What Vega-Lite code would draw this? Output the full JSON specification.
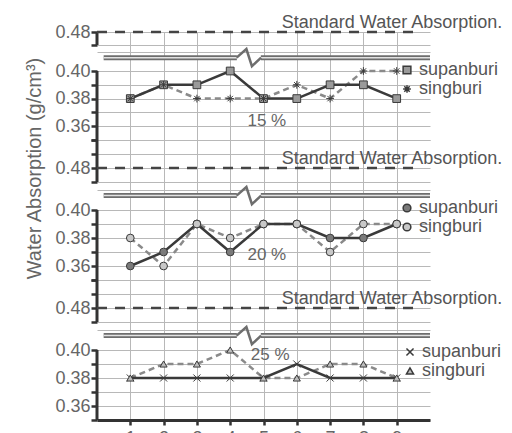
{
  "$schema": "https://vega.github.io/schema/vega-lite/v6.json",
  "background": "#ffffff",
  "padding": {"left": 24, "top": 14, "right": 0, "bottom": 0},
  "bounds": "flush",
  "spacing": 0,
  "config": {
    "font": "Liberation Sans",
    "view": {"stroke": null},
    "axis": {"labelFont": "Liberation Sans", "titleFont": "Liberation Sans"},
    "legend": {"labelFont": "Liberation Sans"}
  },
  "datasets": {
    "wa": [
      {"panel": "15%", "day": 1, "series": "supanburi", "value": 0.38},
      {"panel": "15%", "day": 2, "series": "supanburi", "value": 0.39},
      {"panel": "15%", "day": 3, "series": "supanburi", "value": 0.39},
      {"panel": "15%", "day": 4, "series": "supanburi", "value": 0.40},
      {"panel": "15%", "day": 5, "series": "supanburi", "value": 0.38},
      {"panel": "15%", "day": 6, "series": "supanburi", "value": 0.38},
      {"panel": "15%", "day": 7, "series": "supanburi", "value": 0.39},
      {"panel": "15%", "day": 8, "series": "supanburi", "value": 0.39},
      {"panel": "15%", "day": 9, "series": "supanburi", "value": 0.38},
      {"panel": "15%", "day": 1, "series": "singburi", "value": 0.38},
      {"panel": "15%", "day": 2, "series": "singburi", "value": 0.39},
      {"panel": "15%", "day": 3, "series": "singburi", "value": 0.38},
      {"panel": "15%", "day": 4, "series": "singburi", "value": 0.38},
      {"panel": "15%", "day": 5, "series": "singburi", "value": 0.38},
      {"panel": "15%", "day": 6, "series": "singburi", "value": 0.39},
      {"panel": "15%", "day": 7, "series": "singburi", "value": 0.38},
      {"panel": "15%", "day": 8, "series": "singburi", "value": 0.40},
      {"panel": "15%", "day": 9, "series": "singburi", "value": 0.40},
      {"panel": "20%", "day": 1, "series": "supanburi", "value": 0.36},
      {"panel": "20%", "day": 2, "series": "supanburi", "value": 0.37},
      {"panel": "20%", "day": 3, "series": "supanburi", "value": 0.39},
      {"panel": "20%", "day": 4, "series": "supanburi", "value": 0.37},
      {"panel": "20%", "day": 5, "series": "supanburi", "value": 0.39},
      {"panel": "20%", "day": 6, "series": "supanburi", "value": 0.39},
      {"panel": "20%", "day": 7, "series": "supanburi", "value": 0.38},
      {"panel": "20%", "day": 8, "series": "supanburi", "value": 0.38},
      {"panel": "20%", "day": 9, "series": "supanburi", "value": 0.39},
      {"panel": "20%", "day": 1, "series": "singburi", "value": 0.38},
      {"panel": "20%", "day": 2, "series": "singburi", "value": 0.36},
      {"panel": "20%", "day": 3, "series": "singburi", "value": 0.39},
      {"panel": "20%", "day": 4, "series": "singburi", "value": 0.38},
      {"panel": "20%", "day": 5, "series": "singburi", "value": 0.39},
      {"panel": "20%", "day": 6, "series": "singburi", "value": 0.39},
      {"panel": "20%", "day": 7, "series": "singburi", "value": 0.37},
      {"panel": "20%", "day": 8, "series": "singburi", "value": 0.39},
      {"panel": "20%", "day": 9, "series": "singburi", "value": 0.39},
      {"panel": "25%", "day": 1, "series": "supanburi", "value": 0.38},
      {"panel": "25%", "day": 2, "series": "supanburi", "value": 0.38},
      {"panel": "25%", "day": 3, "series": "supanburi", "value": 0.38},
      {"panel": "25%", "day": 4, "series": "supanburi", "value": 0.38},
      {"panel": "25%", "day": 5, "series": "supanburi", "value": 0.38},
      {"panel": "25%", "day": 6, "series": "supanburi", "value": 0.39},
      {"panel": "25%", "day": 7, "series": "supanburi", "value": 0.38},
      {"panel": "25%", "day": 8, "series": "supanburi", "value": 0.38},
      {"panel": "25%", "day": 9, "series": "supanburi", "value": 0.38},
      {"panel": "25%", "day": 1, "series": "singburi", "value": 0.38},
      {"panel": "25%", "day": 2, "series": "singburi", "value": 0.39},
      {"panel": "25%", "day": 3, "series": "singburi", "value": 0.39},
      {"panel": "25%", "day": 4, "series": "singburi", "value": 0.40},
      {"panel": "25%", "day": 5, "series": "singburi", "value": 0.38},
      {"panel": "25%", "day": 6, "series": "singburi", "value": 0.38},
      {"panel": "25%", "day": 7, "series": "singburi", "value": 0.39},
      {"panel": "25%", "day": 8, "series": "singburi", "value": 0.39},
      {"panel": "25%", "day": 9, "series": "singburi", "value": 0.38}
    ]
  },
  "vconcat": [
    {
      "width": 333, "height": 108,
      "layer": [
        {"data": {"values": [{}]}, "mark": {"type": "rule", "color": "#333", "strokeWidth": 3}, "encoding": {"x": {"datum": 0, "type": "quantitative"}, "y": {"datum": 0.35, "type": "quantitative"}, "y2": {"datum": 0.40}}},
        {"data": {"values": [{}]}, "mark": {"type": "rule", "color": "#333", "strokeWidth": 3}, "encoding": {"x": {"datum": 0, "type": "quantitative"}, "y": {"datum": 0.47, "type": "quantitative"}, "y2": {"datum": 0.48}}},
        {"data": {"values": [{}]}, "mark": {"type": "rule", "color": "#6e6e6e", "strokeWidth": 5}, "encoding": {"x": {"datum": 0.2, "type": "quantitative"}, "x2": {"datum": 4.2}, "y": {"datum": 0.436, "type": "quantitative"}}},
        {"data": {"values": [{}]}, "mark": {"type": "rule", "color": "#6e6e6e", "strokeWidth": 5}, "encoding": {"x": {"datum": 4.92, "type": "quantitative"}, "x2": {"datum": 10}, "y": {"datum": 0.436, "type": "quantitative"}}},
        {"data": {"values": [{}]}, "mark": {"type": "rule", "color": "#e2e2e2", "strokeWidth": 1.5}, "encoding": {"x": {"datum": 0.2, "type": "quantitative"}, "x2": {"datum": 4.2}, "y": {"datum": 0.436, "type": "quantitative"}}},
        {"data": {"values": [{}]}, "mark": {"type": "rule", "color": "#e2e2e2", "strokeWidth": 1.5}, "encoding": {"x": {"datum": 4.92, "type": "quantitative"}, "x2": {"datum": 10}, "y": {"datum": 0.436, "type": "quantitative"}}},
        {"data": {"values": [{}]}, "mark": {"type": "point", "shape": "M-1,0L-0.2,-0.7L0.25,0.7L1,0", "size": 600, "filled": false, "stroke": "#6e6e6e", "strokeWidth": 2.5, "opacity": 1}, "encoding": {"x": {"datum": 4.56, "type": "quantitative"}, "y": {"datum": 0.436, "type": "quantitative"}}},
        {"data": {"values": [{}]}, "mark": {"type": "rule", "color": "#444", "strokeWidth": 2.5, "strokeDash": [10, 8]}, "encoding": {"x": {"datum": 0, "type": "quantitative"}, "x2": {"datum": 9.6}, "y": {"datum": 0.48, "type": "quantitative"}}},
        {"data": {"values": [{}]}, "mark": {"type": "text", "text": "Standard Water Absorption.", "align": "left", "baseline": "alphabetic", "dy": -4, "fontSize": 18, "color": "#555"}, "encoding": {"x": {"datum": 5.55, "type": "quantitative"}, "y": {"datum": 0.48, "type": "quantitative"}}},
        {"data": {"values": [{}]}, "mark": {"type": "text", "text": "15 %", "align": "center", "baseline": "middle", "fontSize": 17, "color": "#666"}, "encoding": {"x": {"datum": 5.1, "type": "quantitative"}, "y": {"datum": 0.3635, "type": "quantitative"}}},
        {
          "data": {"name": "wa"},
          "transform": [{"filter": "datum.panel == '15%' && datum.series == 'singburi'"}],
          "mark": {"type": "line", "strokeWidth": 2.5, "color": "#8a8a8a", "strokeDash": [6, 4]},
          "encoding": {
            "x": {"field": "day", "type": "quantitative", "scale": {"domain": [0, 10], "nice": false, "zero": false},
                  "axis": {"values": [1, 2, 3, 4, 5, 6, 7, 8, 9], "grid": true, "gridColor": "#b8b8b8", "domain": false, "ticks": false, "labels": false, "title": null}},
            "y": {"field": "value", "type": "quantitative", "scale": {"domain": [0.35, 0.40, 0.47, 0.48], "range": [108, 39, 13, 0], "nice": false, "zero": false},
                  "axis": {"values": [0.35, 0.36, 0.37, 0.38, 0.39, 0.40, 0.45, 0.47, 0.48], "tickCount": 30, "domain": false, "grid": true, "gridColor": "#b8b8b8",
                           "tickSize": 6, "tickWidth": 2.5, "tickColor": "#333",
                           "tickOpacity": {"condition": {"test": "datum.value > 0.44 && datum.value < 0.46", "value": 0}, "value": 1},
                           "labelExpr": "indexof(['0.36','0.38','0.40','0.48'], format(datum.value, '.2f')) >= 0 ? format(datum.value, '.2f') : ''",
                           "labelFontSize": 18, "labelColor": "#666", "labelPadding": 1, "labelOverlap": false, "labelFlush": false, "labelBound": false, "title": null}}
          }
        },
        {
          "data": {"name": "wa"},
          "transform": [{"filter": "datum.panel == '15%' && datum.series == 'supanburi'"}],
          "mark": {"type": "line", "strokeWidth": 2.5, "color": "#3a3a3a"},
          "encoding": {"x": {"field": "day", "type": "quantitative"}, "y": {"field": "value", "type": "quantitative"}}
        },
        {
          "data": {"name": "wa"},
          "transform": [{"filter": "datum.panel == '15%'"}],
          "mark": {"type": "point", "filled": true, "size": 60, "stroke": "#3a3a3a", "strokeWidth": 1, "opacity": 1},
          "encoding": {
            "x": {"field": "day", "type": "quantitative"},
            "y": {"field": "value", "type": "quantitative"},
            "shape": {"field": "series", "type": "nominal", "scale": {"domain": ["supanburi", "singburi"], "range": ["square", "M-1,0L1,0M0,-1L0,1M-0.7,-0.7L0.7,0.7M-0.7,0.7L0.7,-0.7"]},
                      "legend": {"title": null, "orient": "none", "legendX": 301, "legendY": 29, "labelFontSize": 18, "labelColor": "#555", "symbolSize": 60, "rowPadding": 1, "labelOffset": 3, "padding": 0,
                                 "encode": {"symbols": {"update": {"stroke": {"value": "#3a3a3a"}, "strokeWidth": {"value": 1}}}}}},
            "fill": {"field": "series", "type": "nominal", "scale": {"domain": ["supanburi", "singburi"], "range": ["#9a9a9a", "#b5b5b5"]},
                     "legend": {"title": null, "orient": "none", "legendX": 301, "legendY": 29, "labelFontSize": 18, "labelColor": "#555", "symbolSize": 60, "rowPadding": 1, "labelOffset": 3, "padding": 0,
                                "encode": {"symbols": {"update": {"stroke": {"value": "#3a3a3a"}, "strokeWidth": {"value": 1}}}}}}
          }
        }
      ]
    },
    {
      "width": 333, "height": 140,
      "layer": [
        {"data": {"values": [{}]}, "mark": {"type": "rule", "color": "#333", "strokeWidth": 3}, "encoding": {"x": {"datum": 0, "type": "quantitative"}, "y": {"datum": 0.35, "type": "quantitative"}, "y2": {"datum": 0.40}}},
        {"data": {"values": [{}]}, "mark": {"type": "rule", "color": "#333", "strokeWidth": 3}, "encoding": {"x": {"datum": 0, "type": "quantitative"}, "y": {"datum": 0.47, "type": "quantitative"}, "y2": {"datum": 0.50}}},
        {"data": {"values": [{}]}, "mark": {"type": "rule", "color": "#6e6e6e", "strokeWidth": 5}, "encoding": {"x": {"datum": 0.2, "type": "quantitative"}, "x2": {"datum": 4.2}, "y": {"datum": 0.436, "type": "quantitative"}}},
        {"data": {"values": [{}]}, "mark": {"type": "rule", "color": "#6e6e6e", "strokeWidth": 5}, "encoding": {"x": {"datum": 4.92, "type": "quantitative"}, "x2": {"datum": 10}, "y": {"datum": 0.436, "type": "quantitative"}}},
        {"data": {"values": [{}]}, "mark": {"type": "rule", "color": "#e2e2e2", "strokeWidth": 1.5}, "encoding": {"x": {"datum": 0.2, "type": "quantitative"}, "x2": {"datum": 4.2}, "y": {"datum": 0.436, "type": "quantitative"}}},
        {"data": {"values": [{}]}, "mark": {"type": "rule", "color": "#e2e2e2", "strokeWidth": 1.5}, "encoding": {"x": {"datum": 4.92, "type": "quantitative"}, "x2": {"datum": 10}, "y": {"datum": 0.436, "type": "quantitative"}}},
        {"data": {"values": [{}]}, "mark": {"type": "point", "shape": "M-1,0L-0.2,-0.7L0.25,0.7L1,0", "size": 600, "filled": false, "stroke": "#6e6e6e", "strokeWidth": 2.5, "opacity": 1}, "encoding": {"x": {"datum": 4.56, "type": "quantitative"}, "y": {"datum": 0.436, "type": "quantitative"}}},
        {"data": {"values": [{}]}, "mark": {"type": "rule", "color": "#444", "strokeWidth": 2.5, "strokeDash": [10, 8]}, "encoding": {"x": {"datum": 0, "type": "quantitative"}, "x2": {"datum": 9.6}, "y": {"datum": 0.48, "type": "quantitative"}}},
        {"data": {"values": [{}]}, "mark": {"type": "text", "text": "Standard Water Absorption.", "align": "left", "baseline": "alphabetic", "dy": -4, "fontSize": 18, "color": "#555"}, "encoding": {"x": {"datum": 5.55, "type": "quantitative"}, "y": {"datum": 0.48, "type": "quantitative"}}},
        {"data": {"values": [{}]}, "mark": {"type": "text", "text": "20 %", "align": "center", "baseline": "middle", "fontSize": 17, "color": "#666"}, "encoding": {"x": {"datum": 5.1, "type": "quantitative"}, "y": {"datum": 0.368, "type": "quantitative"}}},
        {
          "data": {"name": "wa"},
          "transform": [{"filter": "datum.panel == '20%' && datum.series == 'singburi'"}],
          "mark": {"type": "line", "strokeWidth": 2.5, "color": "#8a8a8a", "strokeDash": [6, 4]},
          "encoding": {
            "x": {"field": "day", "type": "quantitative", "scale": {"domain": [0, 10], "nice": false, "zero": false},
                  "axis": {"values": [1, 2, 3, 4, 5, 6, 7, 8, 9], "grid": true, "gridColor": "#b8b8b8", "domain": false, "ticks": false, "labels": false, "title": null}},
            "y": {"field": "value", "type": "quantitative", "scale": {"domain": [0.35, 0.40, 0.47, 0.50], "range": [140, 70, 42, 0], "nice": false, "zero": false},
                  "axis": {"values": [0.35, 0.36, 0.37, 0.38, 0.39, 0.40, 0.45, 0.47, 0.48, 0.49, 0.50], "tickCount": 30, "domain": false, "grid": true, "gridColor": "#b8b8b8",
                           "tickSize": 6, "tickWidth": 2.5, "tickColor": "#333",
                           "tickOpacity": {"condition": {"test": "datum.value > 0.44 && datum.value < 0.46", "value": 0}, "value": 1},
                           "labelExpr": "indexof(['0.36','0.38','0.40','0.48'], format(datum.value, '.2f')) >= 0 ? format(datum.value, '.2f') : ''",
                           "labelFontSize": 18, "labelColor": "#666", "labelPadding": 1, "labelOverlap": false, "labelFlush": false, "labelBound": false,
                           "title": "Water Absorption (g/cm³)", "titleFontSize": 20, "titleFontWeight": "normal", "titleColor": "#666", "titlePadding": 10, "titleY": 28}}
          }
        },
        {
          "data": {"name": "wa"},
          "transform": [{"filter": "datum.panel == '20%' && datum.series == 'supanburi'"}],
          "mark": {"type": "line", "strokeWidth": 2.5, "color": "#3a3a3a"},
          "encoding": {"x": {"field": "day", "type": "quantitative"}, "y": {"field": "value", "type": "quantitative"}}
        },
        {
          "data": {"name": "wa"},
          "transform": [{"filter": "datum.panel == '20%'"}],
          "mark": {"type": "point", "filled": true, "size": 60, "stroke": "#3a3a3a", "strokeWidth": 1, "opacity": 1},
          "encoding": {
            "x": {"field": "day", "type": "quantitative"},
            "y": {"field": "value", "type": "quantitative"},
            "shape": {"field": "series", "type": "nominal", "scale": {"domain": ["supanburi", "singburi"], "range": ["circle", "circle"]},
                      "legend": {"title": null, "orient": "none", "legendX": 301, "legendY": 59, "labelFontSize": 18, "labelColor": "#555", "symbolSize": 60, "rowPadding": 1, "labelOffset": 3, "padding": 0,
                                 "encode": {"symbols": {"update": {"stroke": {"value": "#3a3a3a"}, "strokeWidth": {"value": 1}}}}}},
            "fill": {"field": "series", "type": "nominal", "scale": {"domain": ["supanburi", "singburi"], "range": ["#7a7a7a", "#c8c8c8"]},
                     "legend": {"title": null, "orient": "none", "legendX": 301, "legendY": 59, "labelFontSize": 18, "labelColor": "#555", "symbolSize": 60, "rowPadding": 1, "labelOffset": 3, "padding": 0,
                                "encode": {"symbols": {"update": {"stroke": {"value": "#3a3a3a"}, "strokeWidth": {"value": 1}}}}}}
          }
        }
      ]
    },
    {
      "width": 333, "height": 140,
      "layer": [
        {"data": {"values": [{}]}, "mark": {"type": "rule", "color": "#333", "strokeWidth": 3}, "encoding": {"x": {"datum": 0, "type": "quantitative"}, "y": {"datum": 0.35, "type": "quantitative"}, "y2": {"datum": 0.40}}},
        {"data": {"values": [{}]}, "mark": {"type": "rule", "color": "#333", "strokeWidth": 3}, "encoding": {"x": {"datum": 0, "type": "quantitative"}, "y": {"datum": 0.47, "type": "quantitative"}, "y2": {"datum": 0.50}}},
        {"data": {"values": [{}]}, "mark": {"type": "rule", "color": "#6e6e6e", "strokeWidth": 5}, "encoding": {"x": {"datum": 0.2, "type": "quantitative"}, "x2": {"datum": 4.2}, "y": {"datum": 0.436, "type": "quantitative"}}},
        {"data": {"values": [{}]}, "mark": {"type": "rule", "color": "#6e6e6e", "strokeWidth": 5}, "encoding": {"x": {"datum": 4.92, "type": "quantitative"}, "x2": {"datum": 10}, "y": {"datum": 0.436, "type": "quantitative"}}},
        {"data": {"values": [{}]}, "mark": {"type": "rule", "color": "#e2e2e2", "strokeWidth": 1.5}, "encoding": {"x": {"datum": 0.2, "type": "quantitative"}, "x2": {"datum": 4.2}, "y": {"datum": 0.436, "type": "quantitative"}}},
        {"data": {"values": [{}]}, "mark": {"type": "rule", "color": "#e2e2e2", "strokeWidth": 1.5}, "encoding": {"x": {"datum": 4.92, "type": "quantitative"}, "x2": {"datum": 10}, "y": {"datum": 0.436, "type": "quantitative"}}},
        {"data": {"values": [{}]}, "mark": {"type": "point", "shape": "M-1,0L-0.2,-0.7L0.25,0.7L1,0", "size": 600, "filled": false, "stroke": "#6e6e6e", "strokeWidth": 2.5, "opacity": 1}, "encoding": {"x": {"datum": 4.56, "type": "quantitative"}, "y": {"datum": 0.436, "type": "quantitative"}}},
        {"data": {"values": [{}]}, "mark": {"type": "rule", "color": "#444", "strokeWidth": 2.5, "strokeDash": [10, 8]}, "encoding": {"x": {"datum": 0, "type": "quantitative"}, "x2": {"datum": 9.6}, "y": {"datum": 0.48, "type": "quantitative"}}},
        {"data": {"values": [{}]}, "mark": {"type": "text", "text": "Standard Water Absorption.", "align": "left", "baseline": "alphabetic", "dy": -4, "fontSize": 18, "color": "#555"}, "encoding": {"x": {"datum": 5.55, "type": "quantitative"}, "y": {"datum": 0.48, "type": "quantitative"}}},
        {"data": {"values": [{}]}, "mark": {"type": "text", "text": "25 %", "align": "center", "baseline": "middle", "fontSize": 17, "color": "#666"}, "encoding": {"x": {"datum": 5.2, "type": "quantitative"}, "y": {"datum": 0.3965, "type": "quantitative"}}},
        {
          "data": {"name": "wa"},
          "transform": [{"filter": "datum.panel == '25%' && datum.series == 'singburi'"}],
          "mark": {"type": "line", "strokeWidth": 2.5, "color": "#8a8a8a", "strokeDash": [6, 4]},
          "encoding": {
            "x": {"field": "day", "type": "quantitative", "scale": {"domain": [0, 10], "nice": false, "zero": false},
                  "axis": {"values": [1, 2, 3, 4, 5, 6, 7, 8, 9], "grid": true, "gridColor": "#b8b8b8", "domain": true, "domainColor": "#333", "domainWidth": 3,
                           "ticks": true, "tickColor": "#333", "tickWidth": 2.5, "tickSize": 5,
                           "labelFontSize": 18, "labelColor": "#666", "labelPadding": 4, "labelFlush": false, "labelOverlap": false, "title": null}},
            "y": {"field": "value", "type": "quantitative", "scale": {"domain": [0.35, 0.40, 0.47, 0.50], "range": [140, 70, 42, 0], "nice": false, "zero": false},
                  "axis": {"values": [0.35, 0.36, 0.37, 0.38, 0.39, 0.40, 0.45, 0.47, 0.48, 0.49, 0.50], "tickCount": 30, "domain": false, "grid": true, "gridColor": "#b8b8b8",
                           "tickSize": 6, "tickWidth": 2.5, "tickColor": "#333",
                           "tickOpacity": {"condition": {"test": "datum.value > 0.44 && datum.value < 0.46", "value": 0}, "value": 1},
                           "labelExpr": "indexof(['0.36','0.38','0.40','0.48'], format(datum.value, '.2f')) >= 0 ? format(datum.value, '.2f') : ''",
                           "labelFontSize": 18, "labelColor": "#666", "labelPadding": 1, "labelOverlap": false, "labelFlush": false, "labelBound": false, "title": null}}
          }
        },
        {
          "data": {"name": "wa"},
          "transform": [{"filter": "datum.panel == '25%' && datum.series == 'supanburi'"}],
          "mark": {"type": "line", "strokeWidth": 2.5, "color": "#3a3a3a"},
          "encoding": {"x": {"field": "day", "type": "quantitative"}, "y": {"field": "value", "type": "quantitative"}}
        },
        {
          "data": {"name": "wa"},
          "transform": [{"filter": "datum.panel == '25%'"}],
          "mark": {"type": "point", "filled": true, "size": 50, "stroke": "#3a3a3a", "strokeWidth": 1, "opacity": 1},
          "encoding": {
            "x": {"field": "day", "type": "quantitative"},
            "y": {"field": "value", "type": "quantitative"},
            "shape": {"field": "series", "type": "nominal", "scale": {"domain": ["supanburi", "singburi"], "range": ["M-1,-1L1,1M-1,1L1,-1", "triangle-up"]},
                      "legend": {"title": null, "orient": "none", "legendX": 304, "legendY": 63, "labelFontSize": 18, "labelColor": "#555", "symbolSize": 50, "rowPadding": 1, "labelOffset": 3, "padding": 0,
                                 "encode": {"symbols": {"update": {"stroke": {"value": "#3a3a3a"}, "strokeWidth": {"value": 1}}}}}},
            "fill": {"field": "series", "type": "nominal", "scale": {"domain": ["supanburi", "singburi"], "range": ["#888888", "#bdbdbd"]},
                     "legend": {"title": null, "orient": "none", "legendX": 304, "legendY": 63, "labelFontSize": 18, "labelColor": "#555", "symbolSize": 50, "rowPadding": 1, "labelOffset": 3, "padding": 0,
                                "encode": {"symbols": {"update": {"stroke": {"value": "#3a3a3a"}, "strokeWidth": {"value": 1}}}}}}
          }
        }
      ]
    }
  ],
  "resolve": {
    "scale": {"x": "independent", "y": "independent", "shape": "independent", "fill": "independent"},
    "legend": {"shape": "independent", "fill": "independent"}
  }
}
